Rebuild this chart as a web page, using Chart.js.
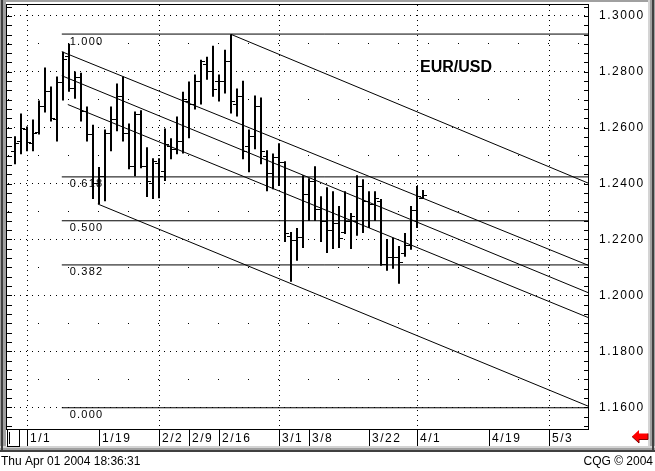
<!DOCTYPE html>
<html>
<head>
<meta charset="utf-8">
<title>EUR/USD daily</title>
<script src="https://cdn.jsdelivr.net/npm/chart.js@4/dist/chart.umd.min.js"></script>
<style>
body { margin: 0; background: #fff; overflow: hidden; }
canvas { display: block; }
</style>
</head>
<body>
<canvas id="myChart" width="655" height="471"></canvas>
<script>
// one slot per weekday, slot 0 = Mon 29 Dec 2003, first bar is Tue 30 Dec
const firstBar = 1;

const opens = [
    1.2516, 1.2551, 1.2594, 1.2544, 1.2583, 1.2676, 1.2729, 1.2629, 1.2761, 1.2854,
    1.2740, 1.2779, 1.2658, 1.2576, 1.2402, 1.2426, 1.2580, 1.2629, 1.2711, 1.2580,
    1.2462, 1.2647, 1.2462, 1.2402, 1.2473, 1.2444, 1.2533, 1.2523, 1.2551, 1.2694,
    1.2683, 1.2765, 1.2826, 1.2801, 1.2765, 1.2765, 1.2836, 1.2683, 1.2711, 1.2533,
    1.2569, 1.2676, 1.2498, 1.2437, 1.2494, 1.2476, 1.2209, 1.2195, 1.2206, 1.2362,
    1.2409, 1.2309, 1.2266, 1.2231, 1.2259, 1.2225, 1.2263, 1.2266, 1.2391, 1.2337,
    1.2327, 1.2337, 1.2109, 1.2134, 1.2134, 1.2150, 1.2177, 1.2302, 1.2348
];
const highs = [
    1.2569, 1.2651, 1.2604, 1.2629, 1.2697, 1.2815, 1.2747, 1.2783, 1.2872, 1.2900,
    1.2801, 1.2797, 1.2676, 1.2611, 1.2459, 1.2594, 1.2676, 1.2758, 1.2783, 1.2615,
    1.2658, 1.2662, 1.2530, 1.2491, 1.2491, 1.2597, 1.2562, 1.2640, 1.2729, 1.2765,
    1.2790, 1.2843, 1.2854, 1.2893, 1.2790, 1.2879, 1.2934, 1.2740, 1.2768, 1.2594,
    1.2715, 1.2708, 1.2519, 1.2508, 1.2544, 1.2480, 1.2227, 1.2241, 1.2430, 1.2419,
    1.2462, 1.2355, 1.2387, 1.2373, 1.2320, 1.2373, 1.2295, 1.2430, 1.2416, 1.2373,
    1.2373, 1.2345, 1.2202, 1.2206, 1.2177, 1.2223, 1.2320, 1.2391, 1.2377
];
const lows = [
    1.2469, 1.2505, 1.2516, 1.2516, 1.2576, 1.2654, 1.2622, 1.2551, 1.2697, 1.2729,
    1.2704, 1.2622, 1.2551, 1.2345, 1.2327, 1.2337, 1.2516, 1.2587, 1.2551, 1.2451,
    1.2426, 1.2455, 1.2352, 1.2345, 1.2348, 1.2409, 1.2487, 1.2505, 1.2508, 1.2562,
    1.2665, 1.2683, 1.2772, 1.2711, 1.2694, 1.2722, 1.2651, 1.2640, 1.2487, 1.2441,
    1.2523, 1.2469, 1.2373, 1.2380, 1.2391, 1.2191, 1.2049, 1.2124, 1.2170, 1.2266,
    1.2266, 1.2191, 1.2152, 1.2166, 1.2170, 1.2220, 1.2166, 1.2213, 1.2223, 1.2241,
    1.2266, 1.2106, 1.2088, 1.2095, 1.2042, 1.2138, 1.2163, 1.2241, 1.2345
];
const closes = [
    1.2544, 1.2597, 1.2548, 1.2580, 1.2676, 1.2729, 1.2633, 1.2761, 1.2843, 1.2740,
    1.2779, 1.2658, 1.2576, 1.2402, 1.2426, 1.2580, 1.2629, 1.2711, 1.2580, 1.2462,
    1.2647, 1.2462, 1.2409, 1.2480, 1.2426, 1.2540, 1.2523, 1.2551, 1.2701, 1.2683,
    1.2765, 1.2836, 1.2801, 1.2736, 1.2765, 1.2836, 1.2694, 1.2711, 1.2516, 1.2569,
    1.2676, 1.2516, 1.2437, 1.2494, 1.2476, 1.2223, 1.2195, 1.2206, 1.2362, 1.2409,
    1.2309, 1.2266, 1.2231, 1.2259, 1.2202, 1.2263, 1.2284, 1.2391, 1.2337, 1.2327,
    1.2345, 1.2109, 1.2134, 1.2134, 1.2117, 1.2177, 1.2302, 1.2355, 1.2359
];

// date axis
const xTickIndex = [3, 15, 25, 30, 35, 45, 50, 60, 68, 80, 90];
const xTickLabels = ['1/1', '1/19', '2/2', '2/9', '2/16', '3/1', '3/8', '3/22', '4/1', '4/19', '5/3'];
const monthStarts = [3, 25, 45, 68, 90];

// price axis
const yTicks = [1.16, 1.17, 1.18, 1.19, 1.20, 1.21, 1.22, 1.23, 1.24, 1.25, 1.26, 1.27, 1.28, 1.29, 1.30];
const yLabelTicks = [1.16, 1.18, 1.20, 1.22, 1.24, 1.26, 1.28, 1.30];

// retracement levels
const fibRatios = ['1.000', '0.618', '0.500', '0.382', '0.000'];
const fibLevels = [1.2935, 1.2424, 1.2267, 1.2109, 1.1598];
const fibStart = 8.8;

// trend channel lines
const trendStart = [37, 8.8, 8.8, 9.8, 14.8];
const trendStartValue = [1.2934, 1.2872, 1.2786, 1.2683, 1.2327];
const trendEnd = 96.5;
const trendEndValue = [1.2402, 1.2108, 1.2010, 1.1921, 1.1604];

const FONT = 'Liberation Sans, Arial, sans-serif';

function TickImage (_side)
{
    // little horizontal tick, left half for the open, right half for the close
    var c = document.createElement('canvas');
    c.width = 8;
    c.height = 1;
    var g = c.getContext('2d');
    g.fillStyle = '#000';
    g.fillRect(_side === 'left' ? 0 : 4, 0, 4, 1);
    return c;
}

function IsMajor (_value)
{
    return yLabelTicks.some(t => Math.abs(t - _value) < 1e-6);
}

function BuildDatasets ()
{
    var datasets = [];

    var range = [], openPts = [], closePts = [];
    for (var i = 0; i < highs.length; i++)
    {
        range.push({ x: firstBar + i, y: [lows[i], highs[i]] });
        openPts.push({ x: firstBar + i, y: opens[i] });
        closePts.push({ x: firstBar + i, y: closes[i] });
    }

    datasets.push({
        type: 'bar',
        data: range,
        backgroundColor: '#000',
        borderWidth: 0,
        barThickness: 2,
        inflateAmount: 0,
        grouped: false
    });
    datasets.push({
        type: 'scatter',
        data: openPts,
        pointStyle: TickImage('left'),
        pointRadius: 1
    });
    datasets.push({
        type: 'scatter',
        data: closePts,
        pointStyle: TickImage('right'),
        pointRadius: 1
    });

    for (var f = 0; f < fibLevels.length; f++)
    {
        datasets.push({
            type: 'line',
            data: [{ x: fibStart, y: fibLevels[f] }, { x: trendEnd, y: fibLevels[f] }],
            borderColor: '#000',
            borderWidth: 1,
            pointRadius: 0
        });
    }

    for (var t = 0; t < trendStart.length; t++)
    {
        datasets.push({
            type: 'line',
            data: [{ x: trendStart[t], y: trendStartValue[t] }, { x: trendEnd, y: trendEndValue[t] }],
            borderColor: '#000',
            borderWidth: 1,
            pointRadius: 0
        });
    }
    return datasets;
}

const cqgFrame =
{
    id: 'cqgFrame',
    beforeDraw (chart)
    {
        const ctx = chart.ctx;
        const W = chart.width;
        ctx.save();
        ctx.fillStyle = '#fff';
        ctx.fillRect(0, 0, W, chart.height);

        // window frame
        ctx.fillStyle = '#a0a0a0';
        ctx.fillRect(0, 0, W, 2);
        ctx.fillRect(0, 0, 6, 452);
        ctx.fillRect(648, 0, 7, 452);
        ctx.fillRect(0, 446, W, 6);
        ctx.fillStyle = '#d4d4d4';
        ctx.fillRect(0, 446, W, 2);
        ctx.fillRect(648, 0, 2, 448);
        ctx.fillStyle = '#404040';
        ctx.fillRect(1, 0, 2, 452);
        ctx.fillRect(0, 450, W, 2);
        ctx.fillRect(652, 0, 2, 452);
        ctx.restore();

        // CQG text is spaced out a little
        ctx.letterSpacing = '1.5px';
    },
    afterDraw (chart)
    {
        const ctx = chart.ctx;
        const a = chart.chartArea;
        const xs = chart.scales.x;
        const ys = chart.scales.y;
        ctx.save();
        ctx.letterSpacing = '0px';

        // plot border
        ctx.strokeStyle = '#000';
        ctx.lineWidth = 1;
        ctx.strokeRect(a.left - 0.5, a.top - 0.5, a.right - a.left + 1, a.bottom - a.top + 1);

        // small ticks on both edges
        ctx.beginPath();
        var step = 0.02 / 6;
        for (var k = -2; k < 50; k++)
        {
            var v = 1.30 - k * step;
            if (v < ys.min || v > ys.max) continue;
            var py = Math.round(ys.getPixelForValue(v)) + 0.5;
            ctx.moveTo(a.left, py);
            ctx.lineTo(a.left + 5, py);
            ctx.moveTo(a.right - 4, py);
            ctx.lineTo(a.right + 1, py);
        }
        ctx.stroke();

        // scroll box at the start of the date strip
        ctx.strokeRect(7.5, a.bottom + 0.5, 12, 17);
        ctx.fillStyle = '#000';
        ctx.fillRect(9, a.bottom + 3, 1, 12);

        // retracement ratios
        ctx.font = '11px ' + FONT;
        ctx.letterSpacing = '1.2px';
        ctx.textBaseline = 'top';
        ctx.textAlign = 'left';
        for (var f = 0; f < fibLevels.length; f++)
        {
            ctx.fillText(fibRatios[f], xs.getPixelForValue(fibStart) + 8, ys.getPixelForValue(fibLevels[f]) + 2);
        }

        // symbol
        ctx.letterSpacing = '0px';
        ctx.font = 'bold 16px ' + FONT;
        ctx.textBaseline = 'alphabetic';
        ctx.fillText('EUR/USD', 420, 72);

        // red arrow
        ctx.beginPath();
        ctx.moveTo(632, 436.5);
        ctx.lineTo(639, 430);
        ctx.lineTo(639, 433.5);
        ctx.lineTo(648, 433.5);
        ctx.lineTo(648, 439.5);
        ctx.lineTo(639, 439.5);
        ctx.lineTo(639, 443);
        ctx.closePath();
        ctx.fillStyle = '#ff0000';
        ctx.fill();
        ctx.strokeStyle = '#800000';
        ctx.beginPath();
        ctx.moveTo(632, 436.5);
        ctx.lineTo(639, 443);
        ctx.lineTo(639, 439.5);
        ctx.lineTo(648, 439.5);
        ctx.lineTo(648, 433.5);
        ctx.stroke();

        // footer
        ctx.fillStyle = '#000';
        ctx.font = '12px ' + FONT;
        ctx.textAlign = 'left';
        ctx.fillText('Thu Apr 01 2004 18:36:31', 1, 465);
        ctx.textAlign = 'right';
        ctx.fillText('CQG \u00A9 2004', 653, 465);
        ctx.restore();
    }
};

function DrawChart ()
{
    const config =
    {
        type: 'bar',
        data: { datasets: BuildDatasets() },
        options:
        {
            responsive: false,
            animation: false,
            devicePixelRatio: 1,
            layout: { padding: { left: 7, top: 3, right: 0, bottom: 0 } },
            plugins:
            {
                legend: { display: false },
                tooltip: { enabled: false }
            },
            scales:
            {
                x:
                {
                    type: 'linear',
                    min: -1 / 3,
                    max: 96.5,
                    offset: false,
                    afterBuildTicks: scale => { scale.ticks = xTickIndex.map(v => ({ value: v })); },
                    afterFit: scale =>
                    {
                        scale.height = 42;
                        scale.paddingLeft = 0;
                        scale.paddingRight = 0;
                    },
                    grid:
                    {
                        color: ctx => (ctx.tick && monthStarts.includes(ctx.tick.value)) ? '#000' : 'rgba(0,0,0,0)',
                        tickColor: '#000',
                        tickLength: 17,
                        lineWidth: 1,
                        offset: false
                    },
                    border: { display: false, dash: [1, 4] },
                    ticks:
                    {
                        autoSkip: false,
                        maxRotation: 0,
                        minRotation: 0,
                        align: 'start',
                        labelOffset: 3,
                        padding: -15,
                        color: '#000',
                        font: { family: FONT, size: 12 },
                        callback: (v, i) => xTickLabels[i]
                    }
                },
                y:
                {
                    type: 'linear',
                    position: 'right',
                    min: 1.1522,
                    max: 1.3039,
                    afterBuildTicks: scale => { scale.ticks = yTicks.map(v => ({ value: v })); },
                    afterFit: scale =>
                    {
                        scale.width = 67;
                        scale.paddingTop = 0;
                        scale.paddingBottom = 0;
                    },
                    grid:
                    {
                        color: '#000',
                        lineWidth: 1,
                        drawTicks: false
                    },
                    border:
                    {
                        display: false,
                        dash: ctx => ctx.tick ? (IsMajor(ctx.tick.value) ? [1, 5] : [1, 29]) : [],
                        dashOffset: ctx => ctx.tick ? (IsMajor(ctx.tick.value) ? 5 : 29) : 0
                    },
                    ticks:
                    {
                        padding: 11,
                        color: '#000',
                        font: { family: FONT, size: 12 },
                        callback: v => IsMajor(v) ? v.toFixed(4) : ''
                    }
                }
            }
        },
        plugins: [cqgFrame]
    };

    const ctx = document.getElementById('myChart').getContext('2d');
    if (ctx) {
        new Chart(ctx, config);
    } else {
        console.error('Element with ID "myChart" not found.');
    }
}

DrawChart();
</script>
</body>
</html>
